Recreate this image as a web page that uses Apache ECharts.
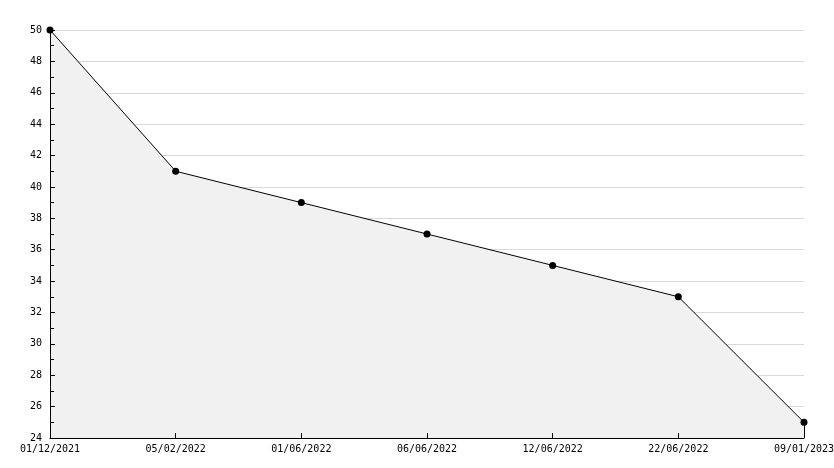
<!DOCTYPE html>
<html>
<head>
<meta charset="utf-8">
<script src="https://cdn.jsdelivr.net/npm/echarts@6/dist/echarts.min.js"></script>
<style>
  html, body { margin: 0; padding: 0; background: #fff; }
  #chart { width: 834px; height: 468px; }
</style>
</head>
<body>
<div id="chart"></div>
<script>
// data
const dates = ['01/12/2021', '05/02/2022', '01/06/2022', '06/06/2022', '12/06/2022', '22/06/2022', '09/01/2023']
const values = [50, 41, 39, 37, 35, 33, 25]
const yMin = 24
const yMax = 50
const yStep = 2

const chart = echarts.init(document.getElementById('chart'))

const font = { fontFamily: 'DejaVu Sans Mono', fontSize: 10, color: '#000' }

chart.setOption({
  animation: false,
  grid: { left: 50, right: 30, top: 30, bottom: 30, containLabel: false, outerBoundsMode: 'none' },
  xAxis: {
    type: 'category',
    data: dates,
    boundaryGap: false,
    z: 10,
    axisLine: { lineStyle: { color: '#000', width: 1 } },
    axisTick: { inside: true, length: 5, lineStyle: { color: '#000' } },
    axisLabel: { ...font, margin: 6, interval: 0, showMinLabel: true, showMaxLabel: true },
    splitLine: { show: false }
  },
  yAxis: [
    {
      // grid lines only, kept under the area
      type: 'value',
      min: yMin,
      max: yMax,
      interval: yStep,
      axisLine: { show: false },
      axisTick: { show: false },
      axisLabel: { show: false },
      splitLine: { show: true, lineStyle: { color: '#d9d9d9', width: 1 } }
    },
    {
      // axis line, ticks and labels drawn above the area
      type: 'value',
      position: 'left',
      offset: 0,
      min: yMin,
      max: yMax,
      interval: yStep,
      z: 10,
      axisLine: { show: true, onZero: false, lineStyle: { color: '#000', width: 1 } },
      axisTick: { show: true, inside: true, length: 5, lineStyle: { color: '#000' } },
      minorTick: { show: true, splitNumber: 2, length: 4, lineStyle: { color: '#000' } },
      axisLabel: { ...font, margin: 8 },
      splitLine: { show: false }
    }
  ],
  series: [
    {
      type: 'line',
      yAxisIndex: 0,
      data: values,
      symbol: 'circle',
      symbolSize: 7,
      itemStyle: { color: '#000' },
      lineStyle: { color: '#000', width: 1 },
      areaStyle: { color: '#f1f1f1', opacity: 1, origin: 'start' },
      markLine: {
        silent: true,
        symbol: 'none',
        label: { show: false },
        lineStyle: { color: '#000', width: 1, type: 'solid' },
        data: [[
          { coord: [dates.length - 1, values[values.length - 1]] },
          { coord: [dates.length - 1, yMin] }
        ]]
      }
    }
  ]
})
</script>
</body>
</html>
